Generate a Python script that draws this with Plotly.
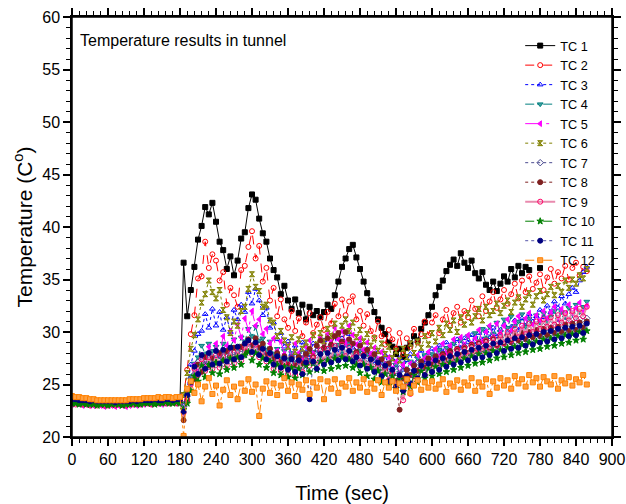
import plotly.graph_objects as go

t = list(range(0, 864, 6))

tc1 = [23.6, 23.5, 23.6, 23.5, 23.5, 23.4, 23.5, 23.4, 23.4, 23.4, 23.3, 23.4, 23.4, 23.3, 23.4, 23.4, 23.4, 23.5, 23.4, 23.5, 23.5, 23.5, 23.6, 23.5, 23.5, 23.6, 23.5, 23.6, 23.6, 23.5, 23.6,
       36.6,
       31.5, 34.0, 36.2, 38.8, 40.1, 41.9, 41.2, 42.3,
       40.5, 38.6, 37.8, 36.0, 37.2, 35.4, 36.8, 38.9, 39.5, 41.8,
       43.1, 42.6, 40.8, 39.4, 38.6, 37.0, 35.9, 35.2, 33.6, 34.4,
       33.0, 32.2, 33.1, 31.8, 32.6, 31.2, 32.4, 31.6, 32.0, 31.4,
       31.9, 32.6, 32.2, 33.5, 34.8, 36.2, 37.0, 37.9, 38.3, 37.1,
       36.0, 34.8, 33.7, 33.0, 31.9, 31.2, 30.4, 29.8, 29.0, 28.6,
       27.9, 28.4, 27.6, 28.5, 28.9, 29.6, 29.2, 30.3, 30.9, 31.6,
       32.4, 33.5, 34.3, 34.9, 35.8, 36.4, 36.9, 36.3, 37.5, 36.6,
       36.1, 36.8, 35.6, 35.1, 35.7, 34.5, 34.0, 34.8, 33.9, 34.6,
       35.3, 34.8, 36.0, 35.2, 36.3, 35.6, 36.2, 35.9, None, None,
       36.1]

tc2 = [23.4, 23.5, 23.4, 23.4, 23.3, 23.4, 23.3, 23.3, 23.4, 23.3, 23.3, 23.4, 23.3, 23.4, 23.3, 23.4, 23.4, 23.3, 23.4, 23.4, 23.5, 23.4, 23.4, 23.5, 23.4, 23.5, 23.5, 23.4, 23.5, 23.4, 23.5,
       24.0,
       26.4, 29.8, 31.6, 35.1, 35.3, 38.6, 36.1, 37.4,
       36.8, 34.9, 35.7, 32.6, 34.2, 33.5, 32.4, 35.9, 36.3, 38.1,
       39.6, 37.0, 38.2, 34.8, 36.1, 33.0, 34.2, 31.5, 33.1, 31.2,
       30.4, 32.0, 30.1, 31.3, 29.6, 30.9, 31.8, 29.9, 30.7, 31.4,
       30.2, 31.9, 30.8, 32.7, 31.5, 33.1, 31.6, 32.9, 33.4, 31.2,
       32.0, 30.6, 31.7, 30.1, 29.5, 31.0, 29.6, 28.8, 30.2, 29.3,
       28.4, 29.9, 27.9, 29.4, 28.6, 30.3, 29.0, 29.8, 31.0, 29.7,
       30.9, 31.6, 29.9, 31.2, 32.1, 30.6, 31.8, 32.4, 30.9, 32.0,
       31.4, 33.0, 32.2, 31.5, 33.4, 32.0, 32.9, 33.8, 32.3, 33.1,
       34.0, 32.7, 33.6, 34.6, 33.2, 34.9, 33.8, 35.3, 34.1, 34.7,
       35.5, 34.0, 35.2, 36.0, 34.6, 35.7, 35.1, 36.3, 35.0, 36.1,
       36.6, 35.4, 36.2, 35.8]

tc3 = [23.3, 23.4, 23.3, 23.3, 23.2, 23.3, 23.2, 23.3, 23.2, 23.2, 23.3, 23.2, 23.2, 23.3, 23.2, 23.3, 23.3, 23.2, 23.3, 23.3, 23.4, 23.3, 23.3, 23.4, 23.3, 23.4, 23.3, 23.4, 23.4, 23.3, 23.4,
       23.0,
       24.6, 26.9, 28.2, 29.8, 30.1, 31.7, 30.4, 32.2,
       30.6, 31.9, 30.2, 31.4, 30.0, 32.1, 31.2, 32.6, 31.9, 33.8,
       32.7, 34.1, 33.0, 31.6, 32.3, 30.4, 30.9, 29.3, 29.9, 28.6,
       29.1, 27.9, 28.7, 27.8, 29.0, 28.1, 27.6, 28.9, 28.3, 27.7,
       29.2, 28.4, 28.9, 29.6, 28.1, 29.4, 28.7, 29.8, 28.5, 28.0,
       28.9, 27.6, 28.4, 27.9, 27.2, 28.1, 27.0, 27.8, 26.6, 27.4,
       26.8, 27.5, 26.4, 27.3, 27.9, 26.9, 27.7, 28.2, 27.1, 28.0,
       28.4, 27.6, 28.7, 28.1, 29.0, 28.3, 28.9, 29.3, 28.5, 29.4,
       29.0, 29.7, 28.8, 29.9, 29.3, 30.1, 29.5, 30.4, 29.6, 30.2,
       30.7, 29.9, 30.5, 31.1, 30.2, 31.3, 30.6, 31.7, 31.0, 31.5,
       32.1, 31.4, 32.5, 31.9, 32.9, 32.3, 33.4, 32.7, 33.6, 34.2,
       33.8, 34.9, 35.7, 36.2]

tc4 = [23.2, 23.3, 23.2, 23.2, 23.1, 23.2, 23.1, 23.2, 23.1, 23.1, 23.2, 23.1, 23.1, 23.2, 23.1, 23.2, 23.2, 23.1, 23.2, 23.2, 23.3, 23.2, 23.2, 23.3, 23.2, 23.3, 23.2, 23.3, 23.3, 23.2, 23.3,
       22.8,
       24.2, 25.8, 27.0, 27.6, 28.7, 27.9, 28.9, 28.2,
       28.6, 27.7, 28.9, 28.1, 28.6, 29.3, 28.4, 29.5, 29.1, 30.3,
       29.6, 30.5, 29.2, 29.4, 28.3, 29.1, 27.9, 28.4, 27.5, 28.2,
       27.4, 28.0, 27.1, 27.9, 26.9, 27.7, 27.3, 28.1, 27.0, 27.8,
       28.3, 27.4, 28.6, 27.9, 28.8, 28.2, 27.6, 28.9, 28.0, 27.5,
       28.2, 27.2, 27.9, 26.9, 27.6, 26.6, 27.4, 26.5, 27.1, 26.3,
       26.9, 26.1, 27.0, 26.4, 27.2, 26.7, 27.5, 26.9, 27.8, 27.1,
       27.9, 27.2, 28.3, 27.6, 28.5, 27.9, 28.9, 28.2, 29.2, 28.5,
       29.6, 28.8, 29.9, 29.1, 30.3, 29.4, 30.5, 29.8, 30.9, 30.0,
       31.2, 30.4, 31.5, 30.6, 31.0, 31.7, 30.5, 31.3, 30.8, 31.6,
       30.9, 31.8, 31.0, 31.5, 32.0, 31.2, 31.9, 31.4, 32.3, 31.7,
       32.6, 31.9, 32.4, 32.9]

tc5 = [23.1, 23.2, 23.1, 23.0, 23.1, 23.0, 23.0, 23.1, 23.0, 22.9, 23.0, 23.0, 22.9, 23.0, 23.0, 22.9, 23.0, 23.1, 23.0, 23.1, 23.1, 23.2, 23.1, 23.2, 23.2, 23.1, 23.2, 23.2, 23.3, 23.2, 23.2,
       22.5,
       23.8, 25.1, 26.9, 26.3, 27.8, 26.9, 28.6, 27.4,
       28.9, 27.8, 29.6, 28.7, 30.1, 29.2, 30.7, 29.5, 31.3, 30.2,
       32.0, 30.6, 31.2, 29.8, 30.3, 28.9, 29.4, 28.2, 29.1, 27.9,
       28.7, 27.6, 28.9, 28.0, 27.5, 28.6, 29.2, 27.9, 28.8, 29.5,
       28.6, 29.8, 29.1, 30.4, 29.3, 30.1, 29.0, 30.6, 29.7, 28.8,
       29.4, 28.3, 29.0, 27.9, 28.5, 27.4, 28.1, 26.9, 27.6, 26.5,
       27.2, 26.1, 26.9, 25.8, 27.0, 26.6, 27.8, 26.9, 27.5, 28.1,
       27.4, 28.4, 27.7, 28.9, 28.0, 28.7, 29.3, 28.2, 29.5, 28.8,
       29.7, 28.9, 29.4, 30.2, 29.1, 30.0, 30.6, 29.5, 30.8, 29.9,
       30.6, 31.2, 30.1, 31.0, 31.5, 30.4, 31.3, 31.8, 30.7, 31.6,
       31.1, 32.0, 31.3, 31.9, 32.4, 31.2, 32.2, 31.7, 32.6, 31.8,
       32.3, 32.8, 31.9, 32.5]

tc6 = [23.5, 23.4, 23.5, 23.4, 23.4, 23.3, 23.4, 23.4, 23.3, 23.4, 23.3, 23.3, 23.4, 23.3, 23.4, 23.4, 23.3, 23.4, 23.4, 23.5, 23.4, 23.4, 23.5, 23.5, 23.4, 23.5, 23.5, 23.5, 23.4, 23.5, 23.5,
       24.0,
       26.1, 28.4, 29.7, 31.2, 32.8, 33.6, 34.9, 33.8,
       33.2, 34.0, 32.1, 31.4, 29.9, 31.0, 30.6, 32.0, 32.4, 34.1,
       35.5, 34.3, 33.9, 32.4, 32.6, 31.1, 30.9, 29.6, 30.1, 29.2,
       28.6, 29.5, 28.1, 29.3, 28.4, 29.0, 28.2, 29.7, 28.8, 29.9,
       29.1, 30.3, 29.6, 30.8, 29.8, 30.6, 31.2, 30.1, 30.9, 29.5,
       30.2, 29.1, 29.8, 28.7, 29.4, 28.2, 28.9, 27.9, 28.6, 27.5,
       28.2, 27.3, 28.4, 27.6, 28.9, 28.0, 29.1, 28.5, 29.6, 28.8,
       29.9, 29.1, 30.4, 29.7, 30.8, 30.2, 31.1, 30.0, 31.4, 30.7,
       31.8, 30.9, 31.5, 32.2, 31.1, 32.4, 31.6, 32.0, 32.7, 31.8,
       32.5, 33.0, 31.9, 32.8, 33.3, 32.4, 33.1, 33.7, 32.6, 33.4,
       33.9, 33.0, 33.6, 34.3, 33.5, 34.4, 33.8, 34.9, 34.2, 35.0,
       34.6, 35.4, 35.1, 36.0]

tc7 = [23.3, 23.3, 23.2, 23.3, 23.2, 23.2, 23.3, 23.2, 23.2, 23.2, 23.3, 23.2, 23.2, 23.2, 23.3, 23.2, 23.3, 23.3, 23.2, 23.3, 23.3, 23.3, 23.4, 23.3, 23.3, 23.4, 23.3, 23.4, 23.4, 23.3, 23.4,
       22.9,
       23.9, 25.6, 25.8, 27.1, 26.4, 27.4, 26.7, 27.6,
       26.9, 27.8, 27.0, 27.9, 27.2, 28.1, 27.4, 28.4, 27.8, 28.9,
       28.3, 29.0, 27.9, 28.4, 27.5, 27.9, 27.1, 27.8, 26.9, 27.5,
       26.8, 27.6, 26.6, 27.3, 27.9, 26.9, 27.5, 27.1, 27.8, 28.2,
       27.3, 28.3, 27.7, 28.5, 27.6, 28.6, 27.9, 28.2, 27.4, 27.8,
       27.2, 27.8, 26.9, 27.5, 26.6, 27.2, 26.3, 26.9, 26.0, 26.7,
       25.8, 26.5, 25.6, 26.4, 26.1, 26.9, 26.3, 27.1, 26.6, 27.4,
       26.8, 27.6, 27.0, 27.9, 27.2, 28.1, 27.5, 28.3, 27.7, 28.6,
       27.9, 28.7, 28.2, 28.9, 28.4, 29.2, 28.6, 29.4, 28.8, 29.5,
       29.0, 29.7, 29.2, 29.9, 29.3, 30.1, 29.5, 30.2, 29.6, 30.4,
       29.8, 30.5, 29.9, 30.7, 30.1, 30.8, 30.2, 31.0, 30.3, 31.1,
       30.5, 31.2, 30.7, 31.3]

tc8 = [23.4, 23.3, 23.3, 23.2, 23.3, 23.3, 23.2, 23.3, 23.2, 23.3, 23.2, 23.2, 23.3, 23.2, 23.3, 23.3, 23.2, 23.3, 23.3, 23.3, 23.4, 23.3, 23.3, 23.4, 23.4, 23.3, 23.4, 23.4, 23.3, 23.4, 23.4,
       21.6,
       23.5, 25.3, 25.5, 26.9, 26.2, 27.6, 26.8, 27.5,
       27.1, 28.0, 27.3, 28.2, 27.6, 28.5, 27.8, 28.6, 28.2, 29.3,
       28.7, 29.4, 28.5, 28.9, 27.8, 28.4, 27.4, 28.0, 27.1, 27.7,
       26.9, 27.5, 26.8, 27.6, 27.0, 27.9, 28.4, 27.6, 28.7, 29.2,
       28.5, 29.4, 28.8, 29.6, 29.9, 29.1, 30.0, 29.3, 28.9, 28.1,
       28.7, 27.8, 28.3, 27.3, 27.9, 26.8, 27.4, 26.4, 27.0, 26.0,
       25.3, 22.6, 25.6, 26.4, 25.9, 26.8, 26.3, 27.2, 26.6, 27.5,
       26.9, 27.7, 27.1, 27.9, 27.3, 28.2, 27.5, 28.4, 27.8, 28.5,
       28.0, 28.8, 28.2, 28.9, 28.4, 29.1, 28.5, 29.3, 28.7, 29.4,
       28.9, 29.6, 29.0, 29.8, 29.2, 29.9, 29.3, 30.0, 29.5, 30.2,
       29.6, 30.3, 29.7, 30.4, 29.9, 30.5, 30.0, 30.7, 30.1, 30.8,
       30.2, 30.9, 30.4, 31.0]

tc9 = [23.2, 23.1, 23.2, 23.1, 23.1, 23.0, 23.1, 23.0, 23.1, 23.0, 23.0, 23.1, 23.0, 23.1, 23.1, 23.0, 23.1, 23.1, 23.2, 23.1, 23.2, 23.2, 23.1, 23.2, 23.2, 23.3, 23.2, 23.2, 23.3, 23.2, 23.3,
       22.3,
       23.6, 25.0, 26.5, 25.9, 27.4, 26.3, 27.6, 26.5,
       27.8, 26.6, 27.7, 26.8, 28.0, 27.0, 28.2, 27.3, 28.5, 29.0,
       27.9, 28.8, 27.6, 28.1, 27.2, 27.9, 26.5, 27.4, 26.3, 27.1,
       26.0, 27.0, 25.9, 27.2, 26.2, 27.4, 26.8, 27.7, 26.9, 28.3,
       27.2, 28.4, 27.4, 28.7, 27.6, 28.8, 27.7, 28.6, 27.5, 27.9,
       27.1, 27.8, 26.7, 27.5, 26.3, 27.0, 25.9, 26.6, 25.4, 26.2,
       24.7, 25.6, 23.5, 25.2, 24.1, 25.8, 25.3, 26.5, 25.9, 27.0,
       26.2, 27.3, 26.6, 27.7, 26.9, 27.9, 27.1, 28.3, 27.4, 28.5,
       27.7, 28.7, 28.0, 29.0, 28.2, 29.2, 28.4, 29.4, 28.7, 29.7,
       28.9, 30.0, 29.2, 30.3, 29.5, 30.6, 29.8, 30.8, 30.0, 31.0,
       30.3, 31.2, 30.5, 31.4, 30.7, 31.6, 30.9, 31.8, 31.1, 32.0,
       31.3, 32.2, 31.5, 32.4]

tc10 = [23.2, 23.2, 23.1, 23.2, 23.1, 23.1, 23.1, 23.0, 23.1, 23.1, 23.0, 23.1, 23.1, 23.1, 23.0, 23.1, 23.1, 23.2, 23.1, 23.1, 23.2, 23.2, 23.2, 23.1, 23.2, 23.2, 23.3, 23.2, 23.2, 23.3, 23.2,
        22.6,
        23.2, 24.4, 25.8, 25.3, 26.8, 25.7, 26.9, 26.1,
        27.1, 26.0, 27.3, 26.4, 27.5, 26.6, 27.6, 26.9, 27.8, 28.1,
        27.3, 28.0, 26.9, 27.5, 26.6, 27.2, 26.1, 26.9, 25.9, 26.7,
        25.7, 26.6, 25.6, 26.5, 25.9, 26.8, 26.2, 27.0, 26.4, 27.2,
        26.3, 27.3, 26.5, 27.5, 26.7, 27.6, 26.8, 27.4, 26.6, 26.9,
        26.1, 26.9, 25.8, 26.6, 25.5, 26.3, 25.2, 26.0, 24.9, 25.8,
        24.6, 25.5, 24.3, 25.4, 24.8, 25.9, 25.2, 26.3, 25.6, 26.5,
        25.8, 26.7, 26.0, 26.9, 26.2, 27.1, 26.4, 27.3, 26.6, 27.5,
        26.8, 27.7, 27.0, 27.9, 27.1, 28.0, 27.3, 28.2, 27.5, 28.3,
        27.6, 28.5, 27.8, 28.6, 28.0, 28.8, 28.1, 29.0, 28.3, 29.1,
        28.4, 29.3, 28.6, 29.4, 28.7, 29.6, 28.9, 29.7, 29.0, 29.8,
        29.2, 30.0, 29.3, 30.1]

tc11 = [23.6, 23.6, 23.5, 23.5, 23.5, 23.4, 23.5, 23.4, 23.4, 23.4, 23.4, 23.4, 23.3, 23.4, 23.4, 23.4, 23.4, 23.5, 23.4, 23.5, 23.5, 23.5, 23.5, 23.6, 23.5, 23.5, 23.6, 23.6, 23.5, 23.6, 23.6,
        22.4,
        24.0, 25.2, 26.7, 26.0, 27.8, 26.5, 28.0, 26.9,
        28.2, 27.0, 28.3, 27.2, 28.5, 27.4, 28.6, 27.6, 28.9, 29.2,
        28.1, 29.0, 27.8, 28.4, 27.4, 28.0, 26.9, 27.7, 26.6, 27.5,
        26.4, 27.4, 26.2, 27.3, 26.0, 27.1, 23.6, 27.2, 26.5, 27.9,
        26.9, 28.0, 27.1, 28.3, 27.3, 28.5, 27.4, 28.2, 27.2, 27.6,
        26.8, 27.7, 26.5, 27.4, 26.2, 27.1, 25.8, 26.8, 25.3, 26.4,
        24.8, 25.9, 24.4, 25.8, 25.1, 26.3, 25.6, 26.8, 25.9, 27.0,
        26.2, 27.3, 26.4, 27.5, 26.7, 27.7, 26.9, 27.9, 27.1, 28.1,
        27.3, 28.3, 27.5, 28.5, 27.6, 28.7, 27.8, 28.9, 28.0, 29.0,
        28.2, 29.2, 28.4, 29.4, 28.5, 29.5, 28.7, 29.7, 28.8, 29.8,
        29.0, 30.0, 29.1, 30.1, 29.3, 30.3, 29.4, 30.4, 29.6, 30.5,
        29.7, 30.6, 29.9, 30.8]

tc12 = [23.9, 23.8, 23.8, 23.7, 23.7, 23.6, 23.6, 23.5, 23.5, 23.5, 23.5, 23.5, 23.5, 23.5, 23.5, 23.5, 23.6, 23.6, 23.6, 23.6, 23.7, 23.7, 23.7, 23.7, 23.8, 23.7, 23.8, 23.8, 23.7, 23.8, 23.8,
        20.1,
        24.6, 25.3, 24.2, 25.0, 23.4, 24.8, 25.6, 24.1,
        24.9, 23.0, 24.5, 25.4, 24.0, 24.8, 23.6, 25.1, 24.4, 25.5,
        24.3, 25.0, 22.0, 24.6, 25.3, 24.2, 25.1, 24.0, 24.9, 25.6,
        24.4, 25.2, 23.9, 25.0, 24.5, 25.4, 24.1, 25.2, 24.7, 25.5,
        23.6, 25.3, 24.6, 25.5, 24.2, 25.1, 24.8, 25.6, 24.4, 25.2,
        24.7, 25.5, 24.3, 25.1, 24.6, 25.4, 24.0, 25.2, 24.7, 25.3,
        24.4, 25.1, 24.8, 25.5, 24.2, 24.9, 25.4, 24.5, 25.2, 24.7,
        25.3, 24.6, 25.0, 25.5, 24.3, 25.1, 24.8, 25.4, 24.5, 25.2,
        24.9, 25.6, 24.4, 25.2, 24.8, 25.5, 24.1, 25.3, 24.7, 25.6,
        24.9, 25.4, 24.6, 25.8, 25.1, 25.5, 24.8, 25.9, 25.2, 25.6,
        24.8, 25.7, 25.3, 25.0, 25.8, 24.6, 25.4, 25.1, 25.7, 24.9,
        25.5, 25.2, 25.9, 25.0]

names = ["TC 1", "TC 2", "TC 3", "TC 4", "TC 5", "TC 6",
         "TC 7", "TC 8", "TC 9", "TC 10", "TC 11", "TC 12"]
series = [tc1, tc2, tc3, tc4, tc5, tc6, tc7, tc8, tc9, tc10, tc11, tc12]

styles = [
    dict(color="#000000", fill="#000000", line="#000000", dash="solid", sym="square", w=1),
    dict(color="#ff0000", fill="#ff0000", line="#ff0000", dash="dash", sym="circle-open", w=1),
    dict(color="#0000ff", fill="#0000ff", line="#0000ff", dash="dot", sym="triangle-up-open", w=1),
    dict(color="#007f7f", fill="#3fa0a0", line="#007f7f", dash="dashdot", sym="triangle-down", w=1),
    dict(color="#ff00ff", fill="#ff00ff", line="#ff00ff", dash="longdashdot", sym="triangle-left", w=1),
    dict(color="#808000", fill="#a0a040", line="#808000", dash="dot", sym="hourglass", w=1),
    dict(color="#4b4b8f", fill="#4b4b8f", line="#4b4b8f", dash="dot", sym="diamond-open", w=1),
    dict(color="#7f2020", fill="#7f2020", line="#7f2020", dash="dot", sym="circle", w=1),
    dict(color="#ff0066", fill="#ff0066", line="#e98aae", dash="solid", sym="circle-open", w=2),
    dict(color="#007f00", fill="#007f00", line="#007f00", dash="dash", sym="star", w=1),
    dict(color="#00007f", fill="#00007f", line="#5555aa", dash="dot", sym="circle", w=1),
    dict(color="#ff8000", fill="#ffa040", line="#ff8000", dash="dashdot", sym="square", w=1),
]

fig = go.Figure()
for name, vals, st in zip(names, series, styles):
    fig.add_trace(go.Scatter(
        x=t[:len(vals)], y=vals, name=name, mode="lines+markers",
        line=dict(color=st["line"], width=st["w"], dash=st["dash"]),
        marker=dict(symbol=st["sym"], size=5, color=st["fill"],
                    line=dict(color=st["color"], width=1)),
        connectgaps=False,
    ))

font_family = "Liberation Sans, Arial, sans-serif"
axis_common = dict(showline=True, linecolor="black", linewidth=1.5, showgrid=False,
                   zeroline=False, tickcolor="black", tickwidth=1.5,
                   tickfont=dict(family=font_family, size=16, color="black"))

fig.update_layout(
    width=626, height=504,
    margin=dict(l=72, r=14, t=17, b=67),
    paper_bgcolor="white", plot_bgcolor="white",
    font=dict(family=font_family, color="black"),
    xaxis=dict(range=[0, 900], dtick=60, tick0=0, ticks="outside", ticklen=7,
               mirror="ticks", automargin=False,
               minor=dict(dtick=12, ticks="outside", ticklen=4, tickcolor="black", tickwidth=1),
               title=dict(text="Time (sec)", font=dict(size=20, family=font_family), standoff=20),
               **axis_common),
    yaxis=dict(range=[20, 60], dtick=5, tick0=20, ticks="outside", ticklen=7,
               mirror="ticks", automargin=False,
               minor=dict(dtick=1, ticks="outside", ticklen=4, tickcolor="black", tickwidth=1),
               title=dict(text="Temperature (C<sup>o</sup>)", font=dict(size=21, family=font_family), standoff=4),
               **axis_common),
    legend=dict(x=0.83, y=0.967, xanchor="left", yanchor="top",
                bgcolor="rgba(0,0,0,0)", borderwidth=0,
                font=dict(family=font_family, size=12.7, color="black"),
                itemwidth=30, tracegroupgap=0),
    showlegend=True,
)

# plot frame (top and right borders)
fig.add_shape(type="rect", xref="paper", yref="paper", x0=0, y0=0, x1=1, y1=1,
              line=dict(color="black", width=1.5), fillcolor="rgba(0,0,0,0)", layer="above")

fig.add_annotation(text="Temperature results in tunnel", xref="paper", yref="paper",
                   x=0.012, y=0.945, xanchor="left", yanchor="middle", showarrow=False,
                   font=dict(family=font_family, size=16, color="black"))

fig.write_html("out.html")
